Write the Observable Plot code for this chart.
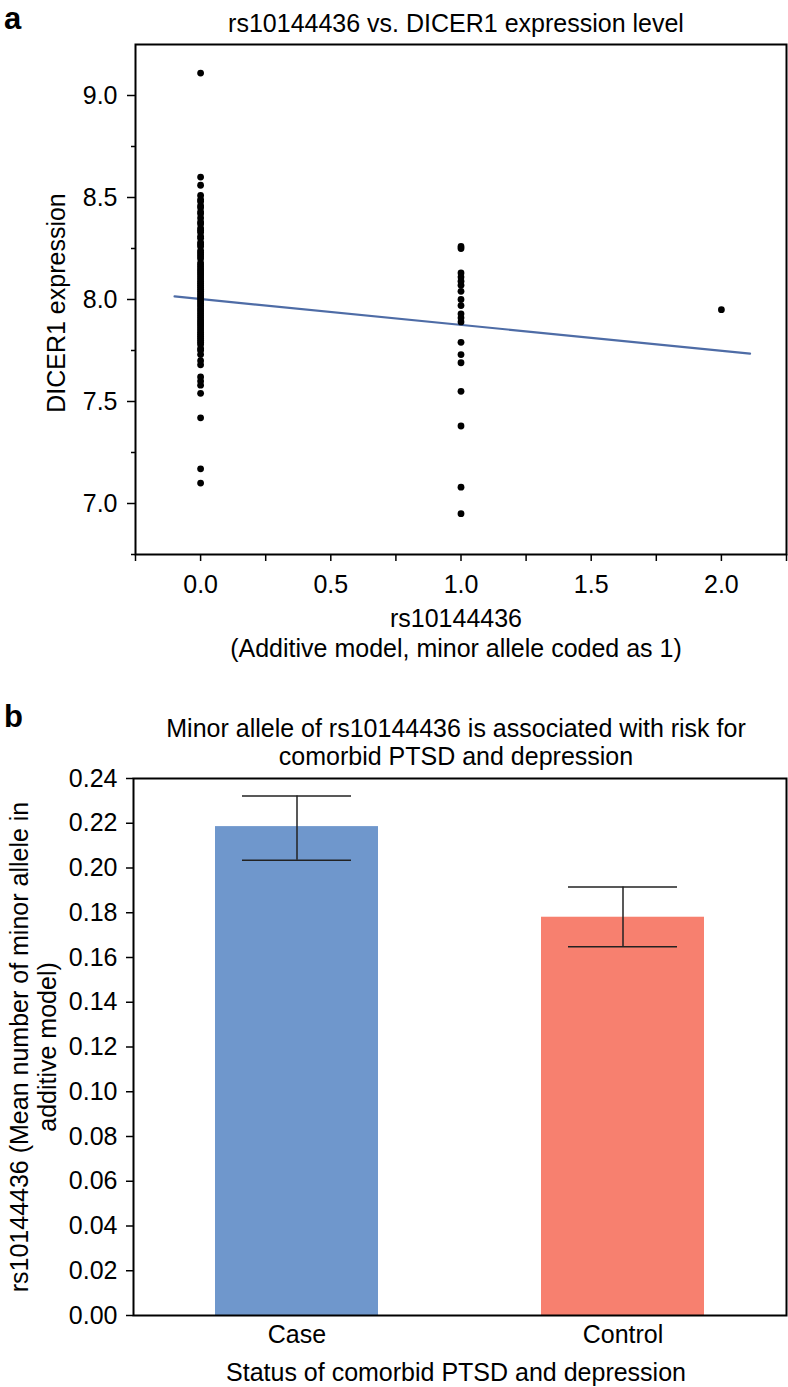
<!DOCTYPE html>
<html><head><meta charset="utf-8">
<script src="https://cdn.jsdelivr.net/npm/d3@7"></script>
<script src="https://cdn.jsdelivr.net/npm/@observablehq/plot@0.6"></script>
<style>
html,body{margin:0;padding:0;background:#fff;}
#wrap{position:relative;width:788px;height:1387px;overflow:hidden;}
#wrap svg{position:absolute;left:0;}
</style></head><body><div id="wrap"></div>
<script>
const FONT = '"Liberation Sans", Arial, Helvetica, sans-serif';

// ---------- Panel a data ----------
const panelATitle = "rs10144436 vs. DICER1 expression level";
const panelAXTitle1 = "rs10144436";
const panelAXTitle2 = "(Additive model, minor allele coded as 1)";
const panelAYTitle = "DICER1 expression";
const dicerAtCode0 = [9.11, 8.60, 8.56, 8.51, 8.49, 8.48, 8.46, 8.45, 8.43, 8.42, 8.40, 8.38, 8.37, 8.35, 8.34,
  8.33, 8.31, 8.30, 8.28, 8.27, 8.26, 8.24, 8.23, 8.22, 8.21, 8.20, 8.18, 8.17, 8.16, 8.15, 8.14, 8.13,
  8.12, 8.11, 8.10, 8.09, 8.08, 8.07, 8.06, 8.05, 8.04, 8.03, 8.02, 8.01, 8.00, 7.99, 7.98, 7.97, 7.96,
  7.95, 7.94, 7.93, 7.92, 7.91, 7.90, 7.89, 7.88, 7.87, 7.86, 7.85, 7.84, 7.83, 7.82, 7.81, 7.80, 7.79,
  7.78, 7.76, 7.75, 7.73, 7.70, 7.68, 7.62, 7.60, 7.58, 7.54, 7.42, 7.17, 7.10];
const dicerAtCode1 = [8.26, 8.25, 8.13, 8.11, 8.09, 8.07, 8.04, 8.00, 7.97, 7.93, 7.91, 7.89, 7.79, 7.73, 7.69, 7.55, 7.38, 7.08, 6.95];
const dicerAtCode2 = [7.95];
const fitLineX = [-0.1, 2.11];
const fitLineY = [8.015, 7.735];
const scatterXDomain = [-0.25, 2.25];
const scatterYDomain = [6.75, 9.25];
const scatterXTicksLabeled = [0, 0.5, 1, 1.5, 2];
const scatterXTicksAll = [-0.25, 0, 0.25, 0.5, 0.75, 1, 1.25, 1.5, 1.75, 2, 2.25];
const scatterYTicksMajor = [7, 7.5, 8, 8.5, 9];
const scatterYTicksMinor = [6.75, 7.25, 7.75, 8.25, 8.75];

// ---------- Panel b data ----------
const panelBTitle1 = "Minor allele of rs10144436 is associated with risk for";
const panelBTitle2 = "comorbid PTSD and depression";
const panelBXTitle = "Status of comorbid PTSD and depression";
const panelBYTitle1 = "rs10144436 (Mean number of minor allele in";
const panelBYTitle2 = "additive model)";
const statusCategories = ["Case", "Control"];
const meanMinorAllele = [0.2185, 0.178];
const errLow = [0.2035, 0.1648];
const errHigh = [0.2322, 0.1915];
const barColors = ["#6f97cc", "#f7806f"];
const barYTicks = [0, 0.02, 0.04, 0.06, 0.08, 0.10, 0.12, 0.14, 0.16, 0.18, 0.20, 0.22, 0.24];

// ---------- build ----------
const points = [
  ...dicerAtCode0.map(v => ({code: 0, expr: v})),
  ...dicerAtCode1.map(v => ({code: 1, expr: v})),
  ...dicerAtCode2.map(v => ({code: 2, expr: v}))
];
const fitData = fitLineX.map((x, i) => ({x, y: fitLineY[i]}));
const barData = statusCategories.map((s, i) => ({status: s, mean: meanMinorAllele[i], lo: errLow[i], hi: errHigh[i]}));
const f1 = d3.format(".1f");
const f2 = d3.format(".2f");

const wrap = document.getElementById("wrap");

const plotA = Plot.plot({
  width: 788, height: 700,
  marginTop: 44, marginBottom: 146, marginLeft: 135, marginRight: 2,
  style: {fontFamily: FONT, fontSize: "25px", color: "#000", background: "transparent"},
  x: {domain: scatterXDomain, label: null},
  y: {domain: scatterYDomain, label: null},
  marks: [
    Plot.line(fitData, {x: "x", y: "y", stroke: "#4e6ca6", strokeWidth: 2.2}),
    Plot.dot(points, {x: "code", y: "expr", r: 3.4, fill: "#000", stroke: "none"}),
    Plot.axisY({ticks: scatterYTicksMajor, tickSize: 8, tickPadding: 10, tickFormat: f1, fontSize: 25, strokeWidth: 1.5, label: null}),
    Plot.axisY({ticks: scatterYTicksMinor, tickSize: 4, tickFormat: () => "", strokeWidth: 1.5, label: null}),
    Plot.axisX({ticks: scatterXTicksAll, tickSize: 7, tickPadding: 14, fontSize: 25, strokeWidth: 1.5,
      tickFormat: d => scatterXTicksLabeled.includes(d) ? f1(d) : "", label: null}),
    Plot.frame({stroke: "#000", strokeWidth: 2})
  ]
});
plotA.style.top = "0px";
wrap.appendChild(plotA);

const plotB = Plot.plot({
  width: 788, height: 687,
  marginTop: 78, marginBottom: 72, marginLeft: 133, marginRight: 2,
  style: {fontFamily: FONT, fontSize: "25px", color: "#000", background: "transparent"},
  x: {domain: statusCategories, paddingInner: 0.5, paddingOuter: 0.25, label: null},
  y: {domain: [0, 0.24], label: null},
  color: {domain: statusCategories, range: barColors},
  marks: [
    Plot.barY(barData, {x: "status", y: "mean", fill: "status"}),
    Plot.ruleX(barData, {x: "status", y1: "lo", y2: "hi", stroke: "#222", strokeWidth: 1.5}),
    Plot.tickY(barData, {x: "status", y: "lo", insetLeft: 27, insetRight: 27, stroke: "#222", strokeWidth: 1.5}),
    Plot.tickY(barData, {x: "status", y: "hi", insetLeft: 27, insetRight: 27, stroke: "#222", strokeWidth: 1.5}),
    Plot.axisY({ticks: barYTicks, tickSize: 7, tickPadding: 9, tickFormat: f2, fontSize: 25, strokeWidth: 1.5, label: null}),
    Plot.axisX({tickSize: 0, tickPadding: 10, fontSize: 25, label: null}),
    Plot.frame({stroke: "#000", strokeWidth: 2})
  ]
});
plotB.style.top = "700px";
wrap.appendChild(plotB);

// ---------- text overlay ----------
const labels = [
  {t: "a", x: 4, y: 29, size: 31, weight: "bold", anchor: "start"},
  {t: panelATitle, x: 456, y: 32, size: 25, anchor: "middle"},
  {t: panelAXTitle1, x: 456, y: 627, size: 25, anchor: "middle"},
  {t: panelAXTitle2, x: 456, y: 657, size: 25, anchor: "middle"},
  {t: panelAYTitle, x: 65, y: 303, size: 25, anchor: "middle", rot: true},
  {t: "b", x: 4, y: 727, size: 31, weight: "bold", anchor: "start"},
  {t: panelBTitle1, x: 456, y: 737, size: 25, anchor: "middle"},
  {t: panelBTitle2, x: 456, y: 765, size: 25, anchor: "middle"},
  {t: panelBXTitle, x: 456, y: 1381, size: 25, anchor: "middle"},
  {t: panelBYTitle1, x: 28, y: 1047, size: 25, anchor: "middle", rot: true},
  {t: panelBYTitle2, x: 56, y: 1047, size: 25, anchor: "middle", rot: true}
];
const overlay = d3.create("svg")
  .attr("width", 788).attr("height", 1387)
  .style("top", "0px").style("pointer-events", "none");
overlay.selectAll("text").data(labels).join("text")
  .attr("transform", d => d.rot ? `translate(${d.x},${d.y}) rotate(-90)` : `translate(${d.x},${d.y})`)
  .attr("text-anchor", d => d.anchor)
  .attr("font-family", FONT)
  .attr("font-size", d => d.size)
  .attr("font-weight", d => d.weight || "normal")
  .attr("fill", "#000")
  .text(d => d.t);
wrap.appendChild(overlay.node());
</script>
</body></html>
